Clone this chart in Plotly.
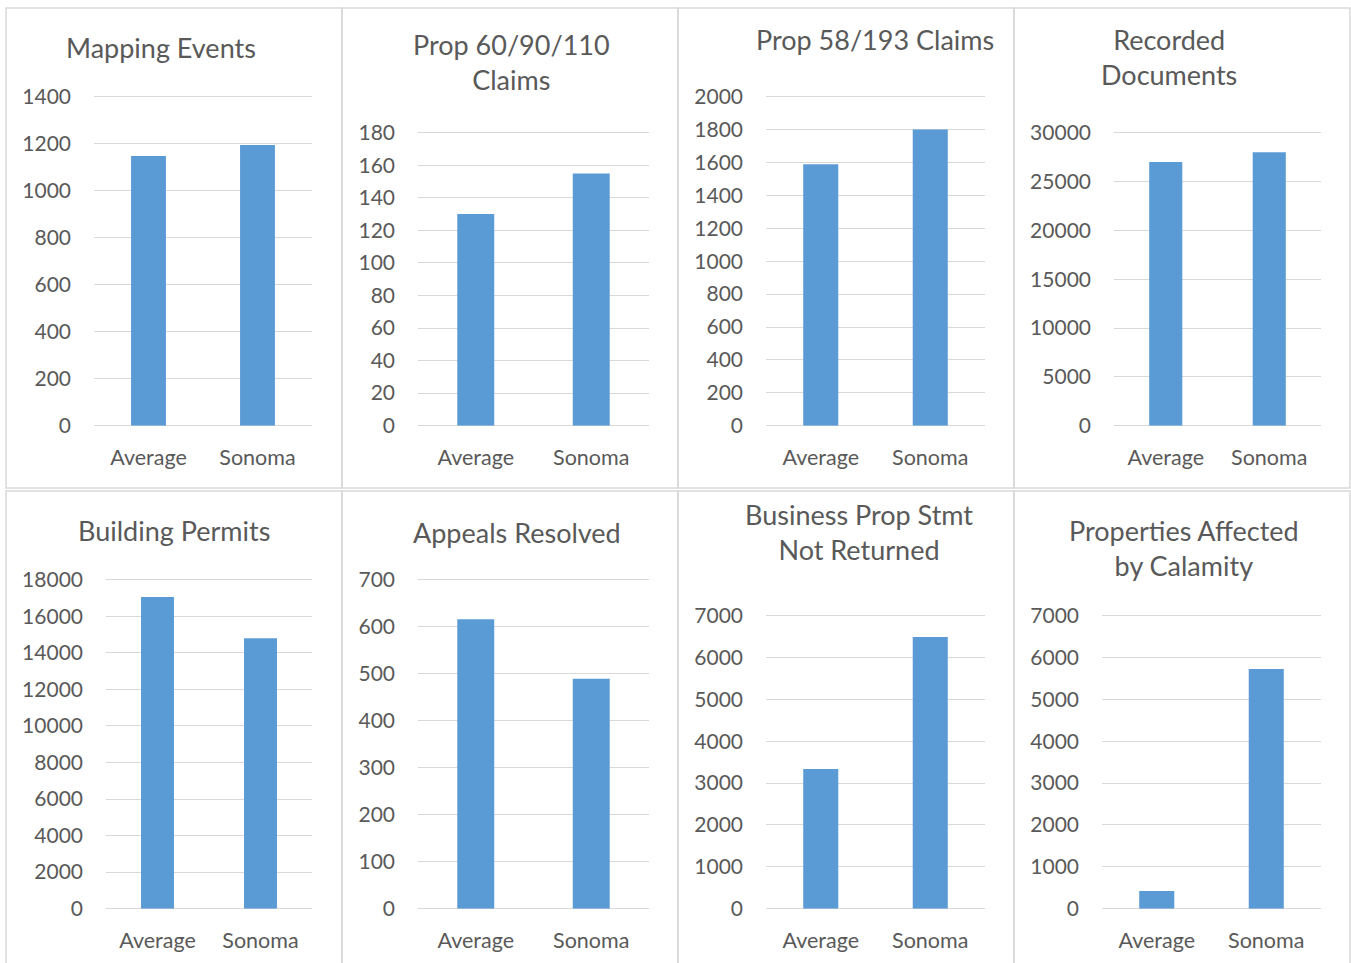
import plotly.graph_objects as go

# ---- data ----
categories = ["Average", "Sonoma"]
titles = [
    "Mapping Events",
    "Prop 60/90/110<br>Claims",
    "Prop 58/193 Claims",
    "Recorded<br>Documents",
    "Building Permits",
    "Appeals Resolved",
    "Business Prop Stmt<br>Not Returned",
    "Properties Affected<br>by Calamity",
]
mapping_events = [1148, 1195]
prop_60_90_110_claims = [130, 155]
prop_58_193_claims = [1590, 1800]
recorded_documents = [27000, 28000]
building_permits = [17050, 14800]
appeals_resolved = [616, 489]
business_prop_stmt_not_returned = [3340, 6490]
properties_affected_by_calamity = [420, 5725]

series = [
    mapping_events, prop_60_90_110_claims, prop_58_193_claims, recorded_documents,
    building_permits, appeals_resolved, business_prop_stmt_not_returned,
    properties_affected_by_calamity,
]
axis_max = [1400, 180, 2000, 30000, 18000, 700, 7000, 7000]
axis_step = [200, 20, 200, 5000, 2000, 100, 1000, 1000]

# ---- layout (pixels) ----
W, H = 1351, 963
plot_boxes = [  # x0, x1, ytop (max gridline), ybottom (zero line)
    (94, 312, 96.7, 425.7),
    (418, 649, 132.7, 425.7),
    (766, 985, 96.7, 425.7),
    (1114, 1321, 132.7, 425.7),
    (106, 312, 579.7, 908.7),
    (418, 649, 579.7, 908.7),
    (766, 985, 615.7, 908.7),
    (1102, 1321, 615.7, 908.7),
]
title_pos = [  # center x, center y
    (161, 47), (511.5, 62), (874.5, 39), (1169, 57),
    (174, 530), (517, 532), (859, 532), (1184, 548),
]
panel_x = [6, 342, 678, 1014, 1350]
panel_rows = [(8, 488), (491, 975)]
PAD = 3  # extra px above top gridline so it is not clipped

TXT = "#595959"
GRID = "#d9d9d9"
BAR = "#5B9BD5"
FONT = "Lato"

fig = go.Figure()
layout = dict(
    width=W, height=H, autosize=False,
    margin=dict(l=0, r=0, t=0, b=0, pad=0, autoexpand=False),
    paper_bgcolor="white", plot_bgcolor="white", showlegend=False,
    font=dict(family=FONT, color=TXT),
    annotations=[], shapes=[],
)

for i, vals in enumerate(series):
    n = i + 1
    xa = "x" if n == 1 else f"x{n}"
    ya = "y" if n == 1 else f"y{n}"
    fig.add_trace(go.Bar(
        x=categories, y=vals, xaxis=xa, yaxis=ya,
        marker=dict(color=BAR, line=dict(width=0)), width=0.32,
        hoverinfo="x+y",
    ))
    x0, x1, yt, yb = plot_boxes[i]
    L = yb - yt
    layout[f"xaxis{'' if n == 1 else n}"] = dict(
        domain=[x0 / W, x1 / W], anchor=ya, type="category",
        range=[-0.5, 1.5], showgrid=False, zeroline=False, showline=False,
        ticks="", tickfont=dict(size=21.5, color=TXT, family=FONT),
        ticklabelstandoff=17, fixedrange=True, automargin=False,
    )
    layout[f"yaxis{'' if n == 1 else n}"] = dict(
        domain=[1 - yb / H, 1 - (yt - PAD) / H], anchor=xa,
        range=[0, axis_max[i] * (L + PAD) / L], dtick=axis_step[i], tick0=0,
        tickformat="d",
        showgrid=True, gridcolor=GRID, gridwidth=1.3,
        zeroline=True, zerolinecolor=GRID, zerolinewidth=1.3,
        showline=False, ticks="", tickfont=dict(size=21, color=TXT, family=FONT),
        ticklabelstandoff=22, fixedrange=True, automargin=False,
    )
    cx, cy = title_pos[i]
    layout["annotations"].append(dict(
        text=titles[i], x=cx / W, y=1 - cy / H, xref="paper", yref="paper",
        xanchor="center", yanchor="middle", showarrow=False,
        font=dict(size=27, color=TXT, family=FONT),
    ))

for (r0, r1) in panel_rows:
    for c in range(4):
        layout["shapes"].append(dict(
            type="rect", xref="paper", yref="paper",
            x0=panel_x[c] / W, x1=panel_x[c + 1] / W,
            y0=1 - r1 / H, y1=1 - r0 / H,
            line=dict(color=GRID, width=1.5), fillcolor="rgba(0,0,0,0)", layer="below",
        ))

fig.update_layout(**layout)
fig.write_html("out.html", config={"displayModeBar": False, "responsive": False},
               post_script="document.body.style.margin='0';document.body.style.overflow='hidden';")
